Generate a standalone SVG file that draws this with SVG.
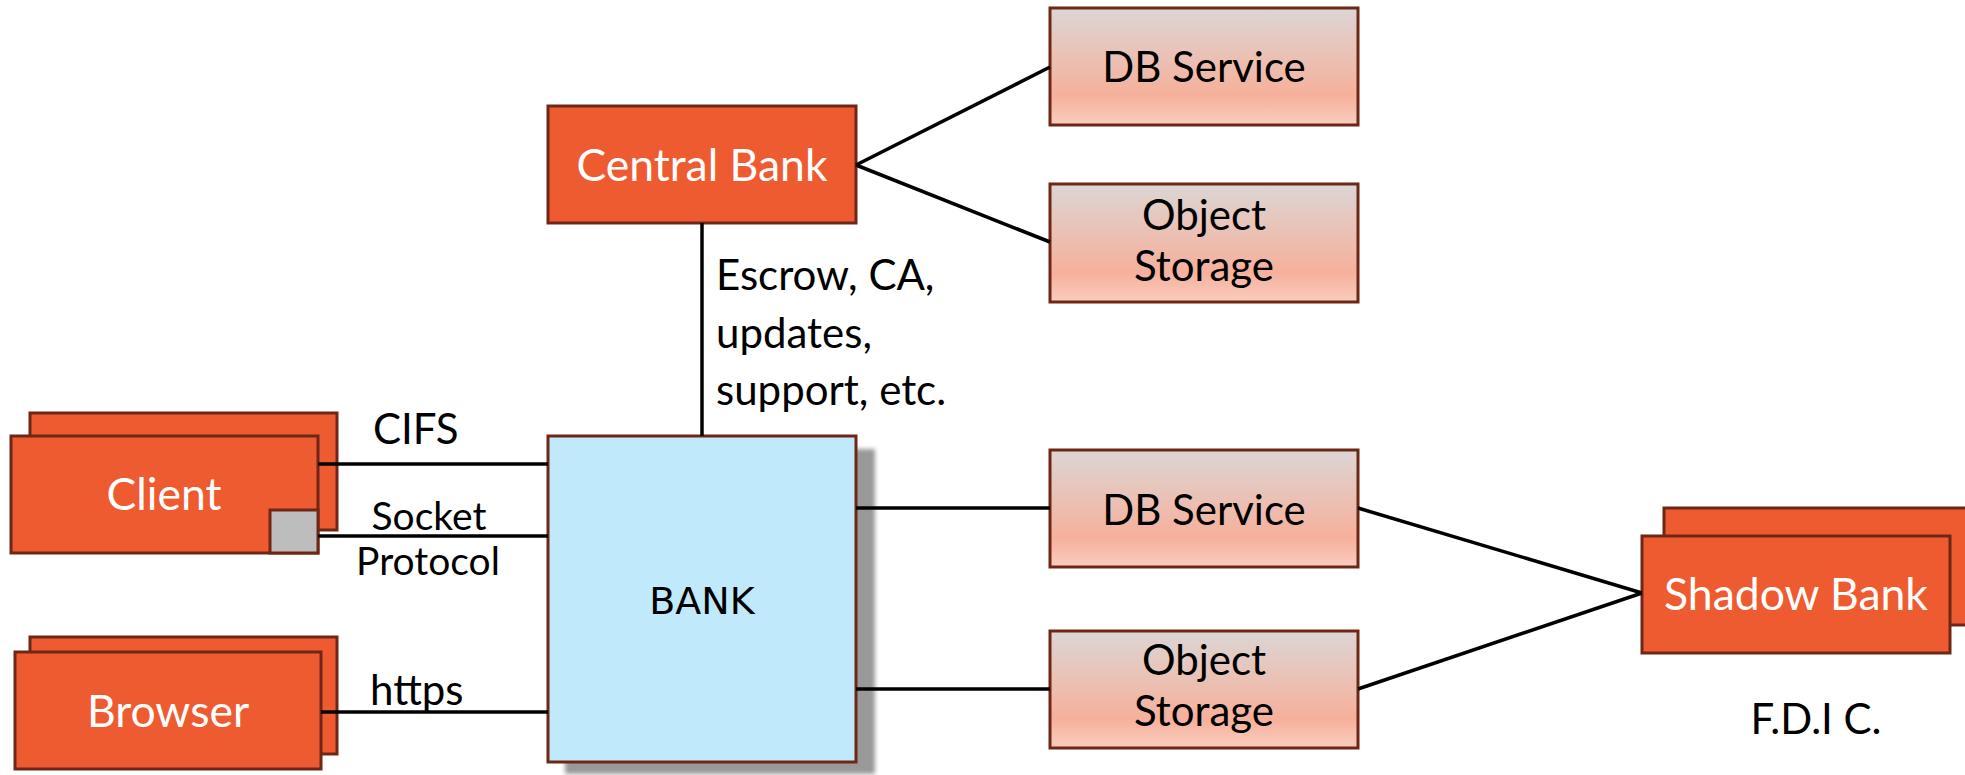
<svg xmlns="http://www.w3.org/2000/svg" width="1965" height="775" viewBox="0 0 1965 775">
  <defs>
    <linearGradient id="svcFill" x1="0" y1="0" x2="0" y2="1">
      <stop offset="0" stop-color="#DCD6D5"/>
      <stop offset="0.75" stop-color="#F6B09B"/>
      <stop offset="1" stop-color="#F9CDBF"/>
    </linearGradient>
    <filter id="soft" x="-10%" y="-10%" width="120%" height="120%">
      <feGaussianBlur stdDeviation="2"/>
    </filter>
  </defs>
  <style>
    .orange { fill: #EF5B30; stroke: #6E2616; stroke-width: 3; }
    .svc { fill: url(#svcFill); stroke: #6E2616; stroke-width: 3; }
    .bank { fill: #C0EAFC; stroke: #6E2616; stroke-width: 3; }
    .port { fill: #BDBDBD; stroke: #6E2616; stroke-width: 3; }
    .wire { stroke: #000; stroke-width: 3.5; fill: none; }
    .lw { font-family: Lato, "Liberation Sans", sans-serif; font-size: 44.5px; fill: #FFFFFF; text-anchor: middle; }
    .lb { font-family: Lato, "Liberation Sans", sans-serif; font-size: 42px; fill: #000; text-anchor: middle; }
    .lab { font-family: Lato, "Liberation Sans", sans-serif; font-size: 42px; fill: #000; }
    .small { font-family: Lato, "Liberation Sans", sans-serif; font-size: 39px; fill: #000; text-anchor: middle; }
  </style>

  <!-- Central Bank -->
  <g id="central-bank">
    <rect class="orange" x="548" y="106" width="308" height="117"/>
    <text class="lw" x="702" y="181">Central Bank</text>
  </g>

  <!-- upper services -->
  <g id="db-service-top">
    <rect class="svc" x="1050" y="8" width="308" height="117"/>
    <text class="lb" x="1204" y="82">DB Service</text>
  </g>
  <g id="object-storage-top">
    <rect class="svc" x="1050" y="184" width="308" height="118"/>
    <text class="lb" x="1204" y="230">Object</text>
    <text class="lb" x="1204" y="281">Storage</text>
  </g>

  <!-- BANK -->
  <g id="bank">
    <rect x="565" y="449" width="310" height="325" fill="#999" filter="url(#soft)"/>
    <rect class="bank" x="548" y="436" width="308" height="326"/>
    <text x="702" y="614" font-family="'DejaVu Sans', sans-serif" font-size="38" fill="#000" text-anchor="middle">BANK</text>
  </g>

  <!-- lower services -->
  <g id="db-service-bottom">
    <rect class="svc" x="1050" y="450" width="308" height="117"/>
    <text class="lb" x="1204" y="525">DB Service</text>
  </g>
  <g id="object-storage-bottom">
    <rect class="svc" x="1050" y="631" width="308" height="117"/>
    <text class="lb" x="1204" y="675">Object</text>
    <text class="lb" x="1204" y="726">Storage</text>
  </g>

  <!-- Client (stacked) -->
  <g id="client">
    <rect class="orange" x="30" y="413" width="307" height="117"/>
    <rect class="orange" x="11" y="436" width="307" height="117"/>
    <rect class="port" x="270" y="510" width="48" height="43"/>
    <text class="lw" x="164" y="510">Client</text>
  </g>

  <!-- Browser (stacked) -->
  <g id="browser">
    <rect class="orange" x="30" y="637" width="307" height="117"/>
    <rect class="orange" x="15" y="652" width="306" height="117"/>
    <text class="lw" x="168" y="727">Browser</text>
  </g>

  <!-- Shadow Bank (stacked) -->
  <g id="shadow-bank">
    <rect class="orange" x="1664" y="508" width="310" height="117"/>
    <rect class="orange" x="1642" y="536" width="308" height="117"/>
    <text class="lw" x="1796" y="610">Shadow Bank</text>
  </g>

  <g id="fdic">
    <text class="lb" x="1816" y="734" font-size="38">F.D.I C.</text>
  </g>

  <!-- connectors, drawn over the stacked boxes and the BANK drop shadow -->
  <g id="connectors">
    <line class="wire" x1="702" y1="223" x2="702" y2="436"/>
    <line class="wire" x1="856" y1="165" x2="1050" y2="67"/>
    <line class="wire" x1="856" y1="165" x2="1050" y2="242"/>
    <line class="wire" x1="318" y1="464" x2="548" y2="464"/>
    <line class="wire" x1="318" y1="536" x2="548" y2="536"/>
    <line class="wire" x1="321" y1="712" x2="548" y2="712"/>
    <line class="wire" x1="856" y1="508" x2="1050" y2="508"/>
    <line class="wire" x1="856" y1="689" x2="1050" y2="689"/>
    <line class="wire" x1="1358" y1="508" x2="1642" y2="593"/>
    <line class="wire" x1="1358" y1="689" x2="1642" y2="593"/>
    <text class="lab" x="373" y="444">CIFS</text>
    <text class="small" x="429" y="530">Socket</text>
    <text class="small" x="428" y="575">Protocol</text>
    <text class="lab" x="370" y="705">https</text>
    <text class="lab" x="716" y="290">Escrow, CA,</text>
    <text class="lab" x="716" y="348">updates,</text>
    <text class="lab" x="716" y="405">support, etc.</text>
  </g>
</svg>
